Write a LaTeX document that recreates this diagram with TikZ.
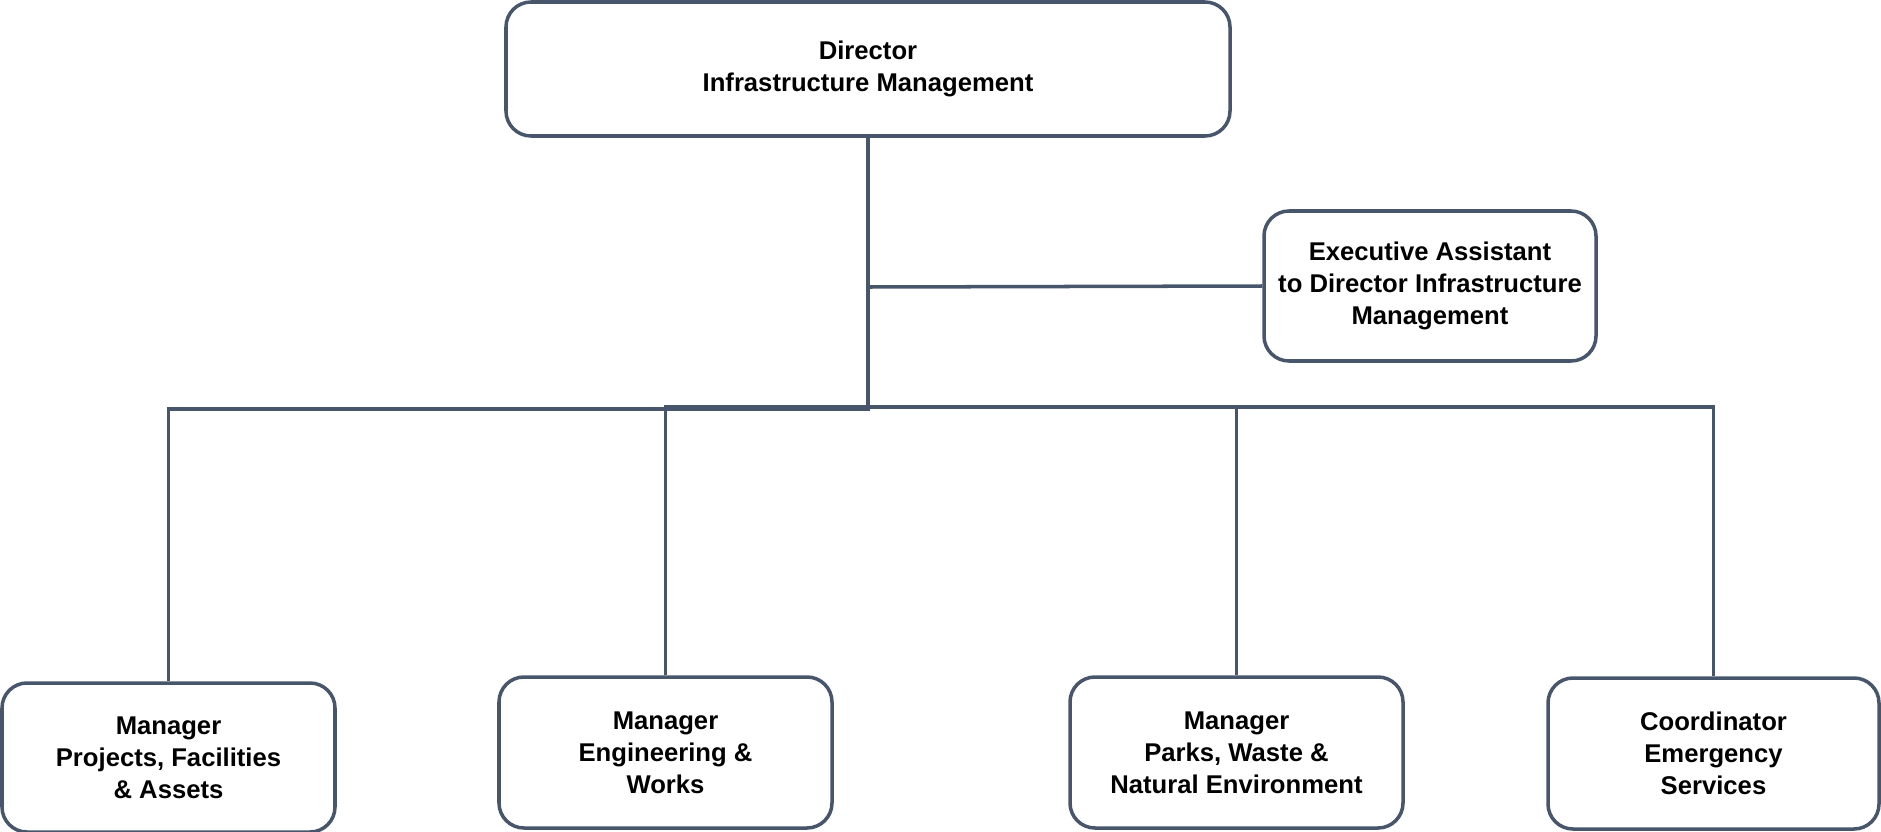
\documentclass[tikz,border=0pt]{standalone}
\usepackage{fontspec}
\setmainfont{Liberation Sans}
\usepackage{tikz}

\definecolor{linegray}{RGB}{72,86,108}

\begin{document}
\begin{tikzpicture}[x=0.02cm,y=-0.02cm,
		box/.style={draw=linegray,line width=2pt,rounded corners=0.5cm,fill=white,
			align=center,font=\bfseries\fontsize{14.6}{18.3}\selectfont,inner sep=0pt},
		link/.style={draw=linegray,line width=2pt}]
		\useasboundingbox (0,0) rectangle (1881,832);
		% boxes
		\node[box,minimum width=724*0.02cm,minimum height=134*0.02cm] (dir) at (868,69) {Director\\Infrastructure Management};
		\node[box,minimum width=332*0.02cm,minimum height=150*0.02cm] (ea) at (1430,286) {Executive Assistant\\to Director Infrastructure\\Management};
		\node[box,minimum width=333*0.02cm,minimum height=149*0.02cm] (pfa) at (168.5,757.5) {Manager\\Projects, Facilities\\\& Assets};
		\node[box,minimum width=333*0.02cm,minimum height=151*0.02cm] (ew) at (665.5,752.5) {Manager\\Engineering \&\\Works};
		\node[box,minimum width=333*0.02cm,minimum height=151*0.02cm] (pwn) at (1236.5,752.5) {Manager\\Parks, Waste \&\\Natural Environment};
		\node[box,minimum width=331*0.02cm,minimum height=151*0.02cm] (ces) at (1713.5,753.5) {Coordinator\\Emergency\\Services};
		% lines
		\coordinate (busL) at (868,409);
		\coordinate (busR) at (665.5,407);
		\coordinate (eaj) at (868,287);
		\draw[link] (dir.south) -- (busL) -| (pfa.north);
		\draw[link] (eaj) -- (ea.west);
		\draw[link] (ew.north) -- (busR) -| (ces.north);
		\draw[link] (pwn.north) -- (pwn.north |- busR);
	\end{tikzpicture}
\end{document}
